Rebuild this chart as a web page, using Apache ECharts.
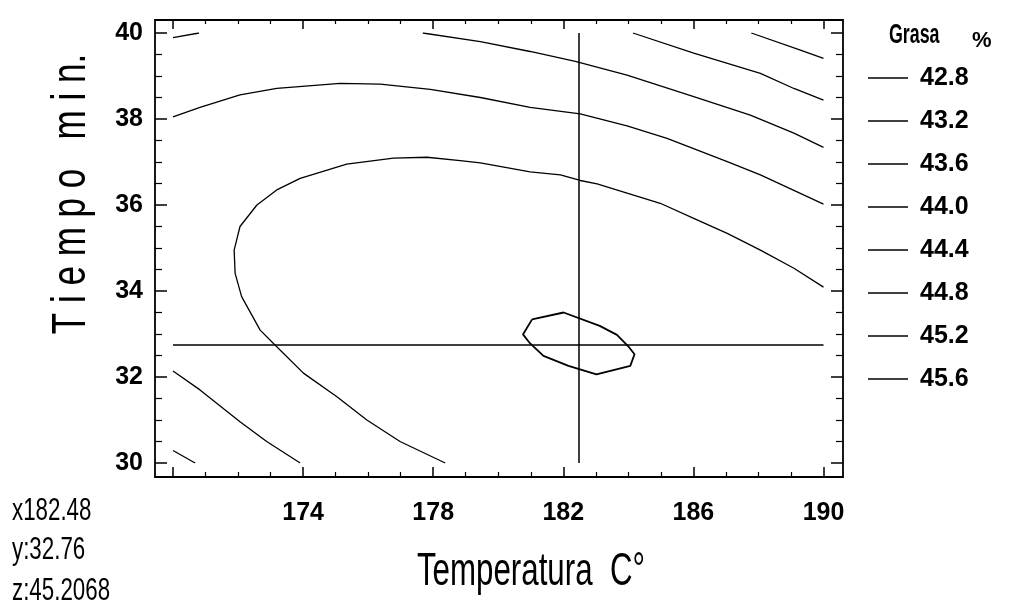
<!DOCTYPE html>
<html>
<head>
<meta charset="utf-8">
<title>Grasa - Temperatura / Tiempo</title>
<script src="https://cdn.jsdelivr.net/npm/echarts@6/dist/echarts.min.js"></script>
<style>
  html, body { margin: 0; padding: 0; background: #fff; }
  #chart { width: 1009px; height: 604px; }
</style>
</head>
<body>
<div id="chart"></div>
<script>
// Axis ranges and tick steps
const xRange = [170, 190];
const xStep = 4;
const yRange = [30, 40];
const yStep = 2;

// Contour levels (Grasa %)
const levels = ['42.8', '43.2', '43.6', '44.0', '44.4', '44.8', '45.2', '45.6'];

// Contour pieces per level: [Temperatura, Tiempo]
const level428 = [];
const level432 = [
  [[187.78, 40.0], [189.29, 39.60], [190.0, 39.41]]
];
const level436 = [
  [[184.14, 40.0], [186.01, 39.53], [188.06, 39.06], [189.09, 38.71], [190.0, 38.44]]
];
const level440 = [
  [[170.0, 39.89], [170.80, 40.0]],
  [[177.68, 40.0], [179.45, 39.80], [180.98, 39.57], [182.37, 39.34], [183.96, 39.02],
   [186.01, 38.52], [187.75, 38.09], [189.09, 37.67], [190.0, 37.34]],
  [[170.0, 30.29], [170.68, 30.0]]
];
const level444 = [
  [[170.0, 38.05], [170.83, 38.27], [172.06, 38.56], [173.19, 38.71], [175.14, 38.83],
   [176.37, 38.81], [177.91, 38.69], [179.45, 38.50], [180.98, 38.27], [182.52, 38.12],
   [183.96, 37.84], [185.19, 37.55], [187.04, 37.01], [188.06, 36.70], [190.0, 36.02]],
  [[170.0, 32.14], [170.83, 31.70], [172.06, 30.96], [172.88, 30.50], [173.91, 30.0]]
];
const level448 = [
  [[178.37, 30.0], [176.98, 30.50], [175.96, 31.0], [175.04, 31.54], [174.01, 32.09],
   [173.09, 32.78], [172.68, 33.09], [172.11, 33.87], [171.91, 34.41], [171.88, 34.95],
   [172.06, 35.50], [172.58, 36.0], [173.19, 36.35], [173.91, 36.62], [175.34, 36.95],
   [176.78, 37.09], [177.81, 37.11], [178.83, 37.03], [179.45, 36.98], [180.98, 36.77],
   [181.91, 36.70], [182.52, 36.57], [183.04, 36.49], [184.98, 36.04], [186.01, 35.69],
   [187.04, 35.34], [188.06, 34.95], [189.09, 34.53], [190.0, 34.09]]
];
const level452 = [
  [[181.04, 33.34], [182.01, 33.50], [183.12, 33.19], [183.65, 32.98], [183.99, 32.72],
   [184.19, 32.53], [184.06, 32.26], [183.02, 32.06], [182.16, 32.26], [181.39, 32.49],
   [180.98, 32.78], [180.76, 32.99], [181.04, 33.34]]
];
const level456 = [];
const levelPieces = [level428, level432, level436, level440, level444, level448, level452, level456];

// Cursor readout
const crossX = 182.48;
const crossY = 32.76;
const crossZ = 45.2068;

const SANS = '"Liberation Sans", Arial, sans-serif';

const series = [];
levels.forEach(function (name, i) {
  const pieces = levelPieces[i];
  const list = pieces.length ? pieces : [[]];
  list.forEach(function (piece) {
    series.push({
      name: name,
      type: 'line',
      xAxisIndex: 0,
      yAxisIndex: 0,
      data: piece,
      showSymbol: false,
      symbol: 'none',
      clip: true,
      silent: true,
      color: '#000',
      lineStyle: { color: '#000', width: name === '45.2' ? 1.8 : 1.3 }
    });
  });
});

// Crosshair at the cursor position
series.push({
  name: 'cursor',
  type: 'line',
  xAxisIndex: 0,
  yAxisIndex: 0,
  data: [],
  markLine: {
    silent: true,
    symbol: 'none',
    label: { show: false },
    lineStyle: { color: '#000', width: 1.5, type: 'solid' },
    data: [{ xAxis: crossX }, { yAxis: crossY }]
  }
});

const tickLabel = { color: '#000', fontFamily: SANS, fontSize: 25, fontWeight: 'bold' };

function valueAxis(extra) {
  return Object.assign({
    type: 'value',
    gridIndex: 0,
    axisLine: { show: false },
    splitLine: { show: false },
    minorSplitLine: { show: false }
  }, extra);
}

// Condensed text helper: horizontal squeeze of a regular face
function label(text, x, y, size, squeeze, extra) {
  return Object.assign({
    type: 'text', x: x, y: y, scaleX: squeeze, silent: true,
    style: Object.assign({ text: text, fill: '#000', font: size + 'px ' + SANS, verticalAlign: 'middle' }, extra || {})
  });
}

const option = {
  animation: false,
  backgroundColor: '#fff',
  grid: [
    { left: 173, right: 185.5, top: 33, bottom: 141 },
    { left: 155, right: 166, top: 20, bottom: 127, show: true, borderColor: '#000', borderWidth: 1.8, backgroundColor: 'transparent' }
  ],
  xAxis: [
    valueAxis({
      position: 'bottom', offset: 14,
      min: xRange[0], max: xRange[1], interval: xStep,
      axisTick: { show: true, inside: true, length: 10, lineStyle: { color: '#000', width: 1.5 } },
      minorTick: { show: true, splitNumber: 4, length: 5, lineStyle: { color: '#000', width: 1.2 } },
      axisLabel: Object.assign({ margin: 24, showMinLabel: false }, tickLabel)
    }),
    valueAxis({
      position: 'top', offset: 13,
      min: xRange[0], max: xRange[1], interval: xStep,
      axisTick: { show: true, inside: true, length: 9, lineStyle: { color: '#000', width: 1.5 } },
      minorTick: { show: true, splitNumber: 4, length: 4, lineStyle: { color: '#000', width: 1.2 } },
      axisLabel: { show: false }
    }),
    { type: 'value', gridIndex: 1, show: false, min: 0, max: 1 }
  ],
  yAxis: [
    valueAxis({
      position: 'left', offset: 18,
      min: yRange[0], max: yRange[1], interval: yStep,
      axisTick: { show: true, inside: true, length: 12, lineStyle: { color: '#000', width: 1.5 } },
      minorTick: { show: true, splitNumber: 4, length: 7, lineStyle: { color: '#000', width: 1.2 } },
      axisLabel: Object.assign({ margin: 12 }, tickLabel)
    }),
    valueAxis({
      position: 'right', offset: 19.5,
      min: yRange[0], max: yRange[1], interval: yStep,
      axisTick: { show: true, inside: true, length: 12, lineStyle: { color: '#000', width: 1.5 } },
      minorTick: { show: true, splitNumber: 4, length: 7, lineStyle: { color: '#000', width: 1.2 } },
      axisLabel: { show: false }
    }),
    { type: 'value', gridIndex: 1, show: false, min: 0, max: 1 }
  ],
  legend: {
    data: levels,
    orient: 'vertical',
    left: 868,
    top: 63,
    padding: 0,
    icon: 'rect',
    itemWidth: 40,
    itemHeight: 1.4,
    itemGap: 13,
    selectedMode: false,
    textStyle: { color: '#000', fontFamily: SANS, fontSize: 25, fontWeight: 'bold', lineHeight: 30, padding: [0, 0, 0, 7] }
  },
  graphic: [
    label('Grasa', 889, 36, 27, 0.66, { font: 'bold 27px ' + SANS }),
    label('%', 972, 41, 22, 1, { font: 'bold 22px ' + SANS }),
    label('Temperatura  C°', 531, 572, 46, 0.68, { align: 'center' }),
    Object.assign(label('T i e m p o   m i n.', 72, 194, 48, 0.73, { align: 'center' }), { rotation: Math.PI / 2 }),
    label('x' + crossX, 12, 511, 31, 0.72),
    label('y:' + crossY, 12, 550, 31, 0.72),
    label('z:' + crossZ, 12, 591, 31, 0.72)
  ],
  series: series
};

const chart = echarts.init(document.getElementById('chart'), null, { renderer: 'canvas' });
chart.setOption(option);
</script>
</body>
</html>
